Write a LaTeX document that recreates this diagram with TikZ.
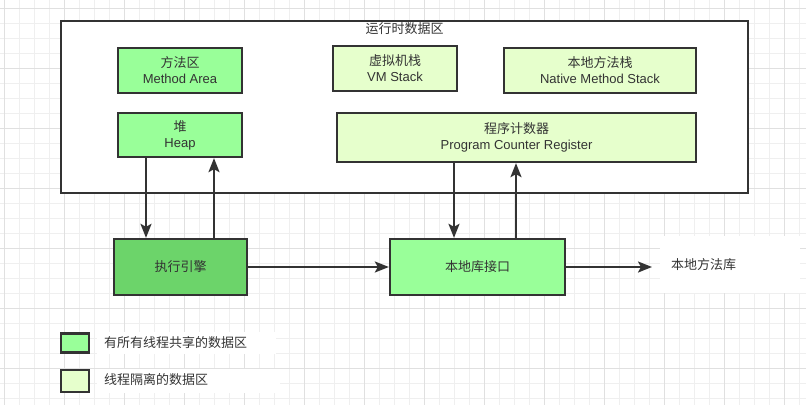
\documentclass[tikz,border=0pt]{standalone}
\usepackage{fontspec}
\setmainfont{Liberation Sans}
\newfontfamily\cjk{Noto Sans CJK SC}
\usetikzlibrary{arrows.meta}
\definecolor{shared}{HTML}{99FF99}
\definecolor{private}{HTML}{E6FFCC}
\definecolor{enginegreen}{HTML}{6CD46A}
\definecolor{ink}{HTML}{333333}
\definecolor{gridminor}{HTML}{EFEFEF}
\definecolor{gridmajor}{HTML}{E0E0E0}
\begin{document}
\begin{tikzpicture}[x=1pt,y=-1pt,
  font=\fontsize{13}{16}\selectfont,
  box/.style={draw=ink, line width=2.3pt, inner sep=0pt, align=center, text=ink},
  lbl/.style={inner sep=0pt, text=ink, align=center},
  arr/.style={draw=ink, line width=2.3pt, -{Stealth[length=14pt,width=11pt,inset=3pt]}},
  blank/.style={fill=white, draw=none}]
\useasboundingbox (0,0) rectangle (806,405);
\fill[white] (0,0) rectangle (806,405);
% grid
\foreach \x in {4,19,...,799} \draw[gridminor, line width=1pt] (\x,0) -- (\x,405);
\foreach \y in {8,23,...,398} \draw[gridminor, line width=1pt] (0,\y) -- (806,\y);
\foreach \x in {4,64,...,784} \draw[gridmajor, line width=1pt] (\x,0) -- (\x,405);
\foreach \y in {8,68,...,368} \draw[gridmajor, line width=1pt] (0,\y) -- (806,\y);
% runtime data area
\node[box, fill=white, minimum width=687pt, minimum height=172pt] (rt) at (404.5,107) {};
\node[lbl] (rttitle) at (404.5,29) {\cjk 运行时数据区};
\node[box, fill=shared, minimum width=124pt, minimum height=45pt] (method) at (180,70.5) {{\cjk 方法区}\\Method Area};
\node[box, fill=shared, minimum width=124pt, minimum height=44pt] (heap) at (180,135) {{\cjk 堆}\\Heap};
\node[box, fill=private, minimum width=124pt, minimum height=45pt] (vm) at (395,68.5) {{\cjk 虚拟机栈}\\VM Stack};
\node[box, fill=private, minimum width=192pt, minimum height=45pt] (native) at (600,70.5) {{\cjk 本地方法栈}\\Native Method Stack};
\node[box, fill=private, minimum width=359pt, minimum height=49pt] (pc) at (516.5,137.5) {{\cjk 程序计数器}\\Program Counter Register};
% engine and interface
\node[box, fill=enginegreen, minimum width=133pt, minimum height=56pt] (engine) at (180.5,267) {\cjk 执行引擎};
\node[box, fill=shared, minimum width=175pt, minimum height=56pt] (iface) at (477.5,267) {\cjk 本地库接口};
\fill[white] (660,236) rectangle (800,293);
\node[lbl] (lib) at (703.5,265) {\cjk 本地方法库};
% arrows
\draw[arr] (146,0 |- heap.south) -- (146,0 |- engine.north);
\draw[arr] (214,0 |- engine.north) -- (214,0 |- heap.south);
\draw[arr] (454,0 |- pc.south) -- (454,0 |- iface.north);
\draw[arr] (516,0 |- iface.north) -- (516,0 |- pc.south);
\draw[arr] (engine.east) -- (iface.west);
\draw[arr] (iface.east) -- (652,0 |- iface.east);
% legend
\fill[white] (97,332) rectangle (276,354);
\fill[white] (97,369) rectangle (280,393);
\node[box, fill=shared, minimum width=28pt, minimum height=19pt] (leg1) at (75,343) {};
\node[box, fill=private, minimum width=28pt, minimum height=22pt] (leg2) at (75,381) {};
\node[lbl, anchor=west] (leg1t) at (104,342.5) {\cjk 有所有线程共享的数据区};
\node[lbl, anchor=west] (leg2t) at (104,380) {\cjk 线程隔离的数据区};
\end{tikzpicture}
\end{document}
